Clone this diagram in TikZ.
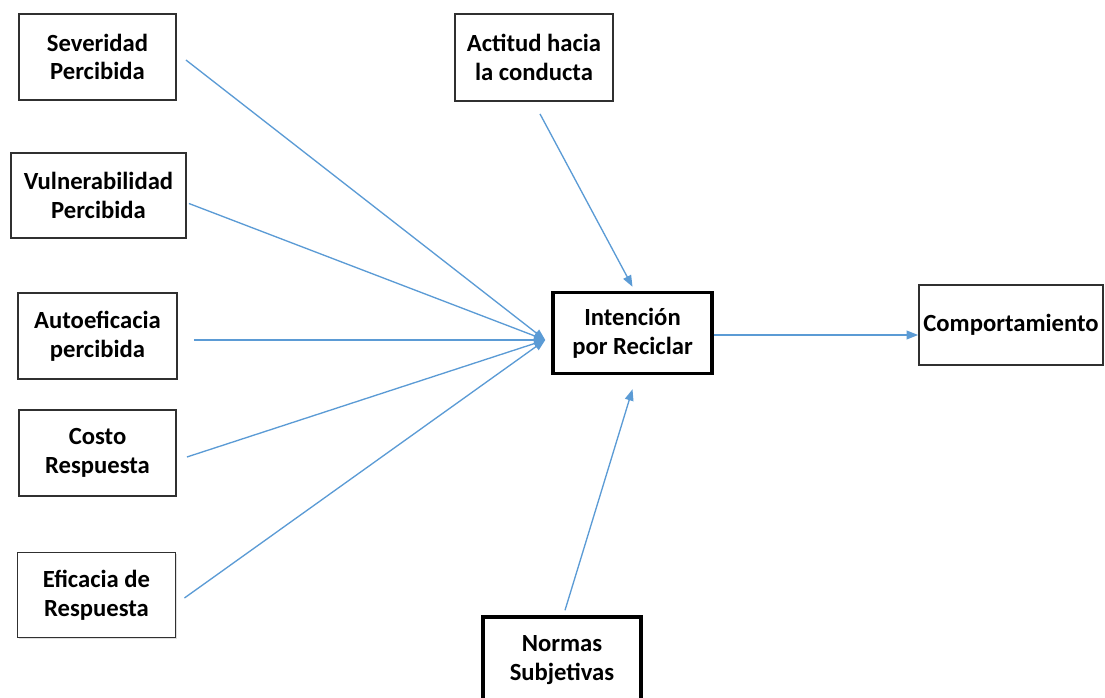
\documentclass[tikz,border=0pt]{standalone}
\usepackage{fontspec}
\setmainfont{Carlito}
\usetikzlibrary{arrows.meta,shadows}
\definecolor{lineblue}{HTML}{5B9BD5}
\definecolor{boxline}{HTML}{303030}
\begin{document}
\begin{tikzpicture}[x=0.75pt,y=-0.75pt,
  box/.style={draw=boxline,line width=1.4pt,fill=white,align=center,inner sep=0pt,
    font=\bfseries\fontsize{18.5}{21.5}\selectfont,
    drop shadow={opacity=0.25,shadow xshift=1pt,shadow yshift=-1pt}},
  thickbox/.style={box,line width=2.6pt,draw=black},
  arr/.style={draw=lineblue,line width=1pt,-{Triangle[length=8.5pt,width=6.5pt]}}]
\useasboundingbox (0,0) rectangle (1105,698);
\node[box,minimum width=117.75pt,minimum height=64.5pt] (sev) at (97.5,57) {Severidad\\Percibida};
\node[box,minimum width=131.25pt,minimum height=63.75pt] (vul) at (98.5,195.5) {Vulnerabilidad\\Percibida};
\node[box,minimum width=119.25pt,minimum height=64.5pt] (aut) at (97.5,336) {Autoeficacia\\percibida};
\node[box,minimum width=117.75pt,minimum height=64.5pt] (cos) at (97.5,453) {Costo\\Respuesta};
\node[box,minimum width=118.5pt,minimum height=63.75pt] (efi) at (96.5,595) {Eficacia de\\Respuesta};
\node[box,minimum width=118.5pt,minimum height=65.25pt] (act) at (534,57.5) {Actitud hacia\\la conducta};
\node[thickbox,minimum width=119.25pt,minimum height=60.75pt] (int) at (632.5,333) {Intención\\por Reciclar};
\node[box,minimum width=138pt,minimum height=60pt] (com) at (1011,325) {Comportamiento};
\node[thickbox,minimum width=118.5pt,minimum height=64.5pt] (nor) at (562,660) {Normas\\Subjetivas};
\coordinate (conv) at ([shift={(-6,7)}]int.west);
\draw[arr] ([shift={(9,3)}]sev.east) -- (conv);
\draw[arr] ([shift={(2,8)}]vul.east) -- (conv);
\draw[arr] ([shift={(16,4)}]aut.east) -- (conv);
\draw[arr] ([shift={(10,4)}]cos.east) -- (conv);
\draw[arr] ([shift={(8,3)}]efi.east) -- (conv);
\draw[arr] ([shift={(6,12)}]act.south) -- ([shift={(0,-4)}]int.north);
\draw[arr] ([shift={(3,-5)}]nor.north) -- ([shift={(0,14)}]int.south);
\coordinate (ie) at ([shift={(0,2)}]int.east);
\draw[arr] (ie) -- (ie -| com.west);
\end{tikzpicture}
\end{document}
